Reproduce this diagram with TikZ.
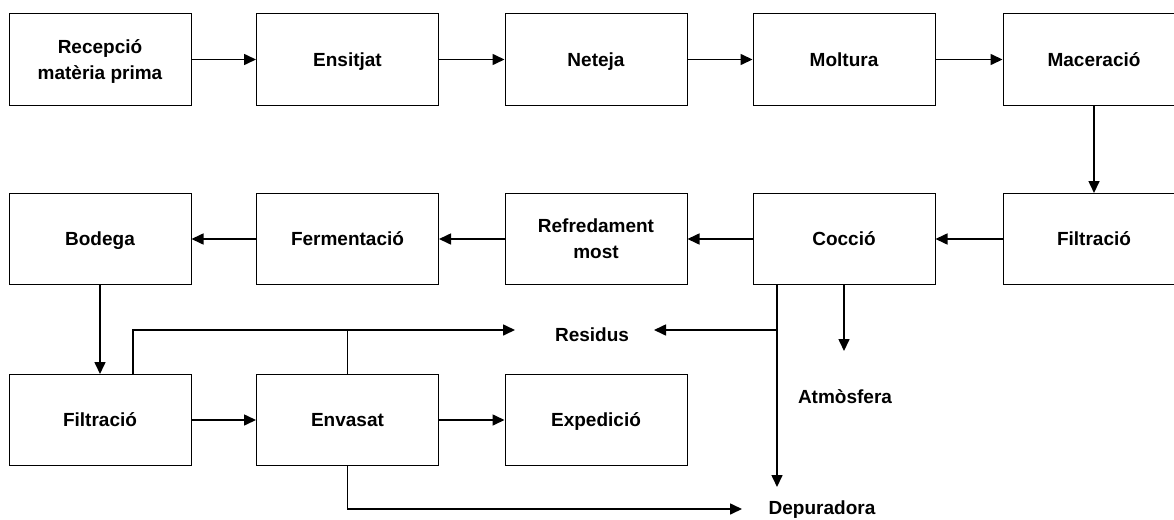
\documentclass[tikz,border=0pt]{standalone}
\usepackage{fontspec}
\setmainfont{Liberation Sans}
\usetikzlibrary{positioning}
\usetikzlibrary{arrows.meta}

\tikzset{
  etapa/.style={draw, line width=1pt, minimum width=182pt, minimum height=91pt,
    inner sep=0pt, align=center, text height=13.5pt, text depth=0pt,
    font=\bfseries\fontsize{19}{26}\selectfont},
  doble/.style={text height=39.5pt},
  sortida/.style={inner sep=0pt, text height=13.5pt, text depth=0pt,
    font=\bfseries\fontsize{19}{26}\selectfont},
  flux/.style={line width=1.6pt, -{Triangle[length=12pt,width=11pt]}},
  linia/.style={line width=1.6pt}
}

\begin{document}
\begin{tikzpicture}[x=1pt,y=-1pt]
  \useasboundingbox (0,0) rectangle (1174,519);

  % primera fila
  \node[etapa,doble] (recepcio) at (100,59.5) {Recepció\\matèria prima};
  \node[etapa] (ensitjat) at (347.5,59.5) {Ensitjat};
  \node[etapa] (neteja) at (596,59.5) {Neteja};
  \node[etapa] (moltura) at (844,59.5) {Moltura};
  \node[etapa] (maceracio) at (1094,59.5) {Maceració};

  % segona fila
  \node[etapa] (bodega) at (100,239) {Bodega};
  \node[etapa] (fermentacio) at (347.5,239) {Fermentació};
  \node[etapa,doble] (refredament) at (596,239) {Refredament\\most};
  \node[etapa] (coccio) at (844,239) {Cocció};
  \node[etapa] (filtracioA) at (1094,239) {Filtració};

  % tercera fila
  \node[etapa] (filtracioB) at (100,420) {Filtració};
  \node[etapa] (envasat) at (347.5,420) {Envasat};
  \node[etapa] (expedicio) at (596,420) {Expedició};

  % sortides
  \node[sortida] (residus) at (592,335) {Residus};
  \node[sortida] (atmosfera) at (845,397) {Atmòsfera};
  \node[sortida] (depuradora) at (822,507.5) {Depuradora};

  \coordinate (resW) at (515,330);
  \coordinate (resE) at (654,330);
  \coordinate (atmN) at (844,351);
  \coordinate (depN) at (777,487);
  \coordinate (depW) at (742,509);
  \coordinate (coccioB) at ([xshift=-67pt]coccio.south);
  \coordinate (filtracioT) at ([xshift=33pt]filtracioB.north);

  \draw[flux] (recepcio) -- (ensitjat);
  \draw[flux] (ensitjat) -- (neteja);
  \draw[flux] (neteja) -- (moltura);
  \draw[flux] (moltura) -- (maceracio);
  \draw[flux] (maceracio) -- (filtracioA);
  \draw[flux] (filtracioA) -- (coccio);
  \draw[flux] (coccio) -- (refredament);
  \draw[flux] (refredament) -- (fermentacio);
  \draw[flux] (fermentacio) -- (bodega);
  \draw[flux] (bodega) -- (filtracioB);
  \draw[flux] (filtracioB) -- (envasat);
  \draw[flux] (envasat) -- (expedicio);

  \draw[flux] (filtracioT) |- (resW);
  \draw[linia] (envasat.north) -- (envasat.north |- resW);
  \draw[flux] (coccioB) -- (depN);
  \draw[flux] (coccioB |- resE) -- (resE);
  \draw[flux] (coccio.south) -- (atmN);
  \draw[flux] (envasat.south) |- (depW);
\end{tikzpicture}
\end{document}
